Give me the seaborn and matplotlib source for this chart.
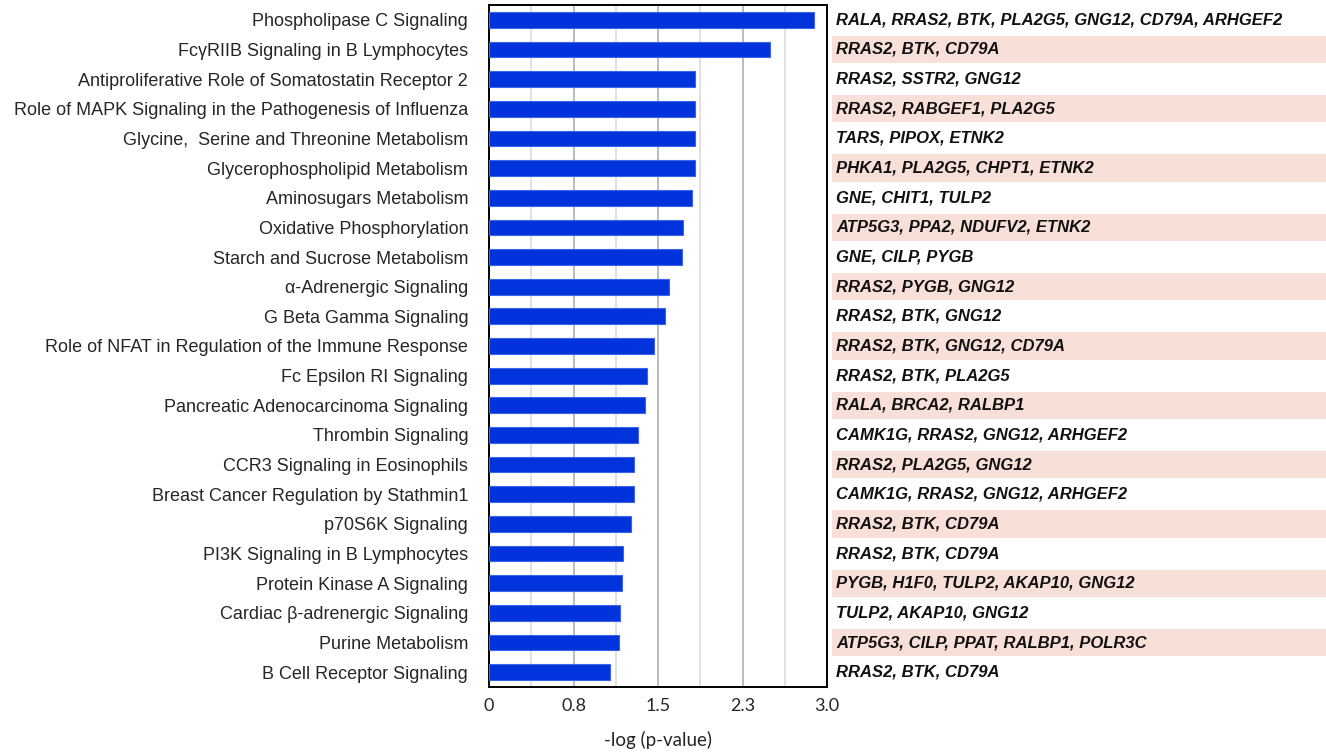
import matplotlib
matplotlib.use("Agg")
import matplotlib.pyplot as plt
import matplotlib.transforms as mtransforms
from matplotlib.patches import Rectangle
from matplotlib.ticker import FixedLocator
import pandas as pd
import seaborn as sns

# %% data
pathways = [
    "Phospholipase C Signaling",
    "FcγRIIB Signaling in B Lymphocytes",
    "Antiproliferative Role of Somatostatin Receptor 2",
    "Role of MAPK Signaling in the Pathogenesis of Influenza",
    "Glycine,  Serine and Threonine Metabolism",
    "Glycerophospholipid Metabolism",
    "Aminosugars Metabolism",
    "Oxidative Phosphorylation",
    "Starch and Sucrose Metabolism",
    "α-Adrenergic Signaling",
    "G Beta Gamma Signaling",
    "Role of NFAT in Regulation of the Immune Response",
    "Fc Epsilon RI Signaling",
    "Pancreatic Adenocarcinoma Signaling",
    "Thrombin Signaling",
    "CCR3 Signaling in Eosinophils",
    "Breast Cancer Regulation by Stathmin1",
    "p70S6K Signaling",
    "PI3K Signaling in B Lymphocytes",
    "Protein Kinase A Signaling",
    "Cardiac β-adrenergic Signaling",
    "Purine Metabolism",
    "B Cell Receptor Signaling",
]
neg_log_p = [
    2.88, 2.49, 1.83, 1.83, 1.83, 1.83, 1.80, 1.72, 1.71, 1.60, 1.56, 1.46,
    1.40, 1.38, 1.32, 1.29, 1.29, 1.26, 1.19, 1.18, 1.16, 1.15, 1.07,
]
genes = [
    "RALA, RRAS2, BTK, PLA2G5, GNG12, CD79A, ARHGEF2",
    "RRAS2, BTK, CD79A",
    "RRAS2, SSTR2, GNG12",
    "RRAS2, RABGEF1, PLA2G5",
    "TARS, PIPOX, ETNK2",
    "PHKA1, PLA2G5, CHPT1, ETNK2",
    "GNE, CHIT1, TULP2",
    "ATP5G3, PPA2, NDUFV2, ETNK2",
    "GNE, CILP, PYGB",
    "RRAS2, PYGB, GNG12",
    "RRAS2, BTK, GNG12",
    "RRAS2, BTK, GNG12, CD79A",
    "RRAS2, BTK, PLA2G5",
    "RALA, BRCA2, RALBP1",
    "CAMK1G, RRAS2, GNG12, ARHGEF2",
    "RRAS2, PLA2G5, GNG12",
    "CAMK1G, RRAS2, GNG12, ARHGEF2",
    "RRAS2, BTK, CD79A",
    "RRAS2, BTK, CD79A",
    "PYGB, H1F0, TULP2, AKAP10, GNG12",
    "TULP2, AKAP10, GNG12",
    "ATP5G3, CILP, PPAT, RALBP1, POLR3C",
    "RRAS2, BTK, CD79A",
]
x_ticks = [0, 0.75, 1.5, 2.25, 3.0]
x_tick_labels = ["0", "0.8", "1.5", "2.3", "3.0"]
minor_grid = [0.375, 1.125, 1.875, 2.625]

df = pd.DataFrame({"pathway": pathways, "score": neg_log_p, "genes": genes})

# %% plot
sns.set_theme(style="white")
plt.rcParams["font.family"] = ["Liberation Sans", "DejaVu Sans"]

fig = plt.figure(figsize=(13.26, 7.52), dpi=100)
ax = fig.add_axes([0.3688, 0.0864, 0.2549, 0.907])

sns.barplot(
    data=df,
    x="score",
    y="pathway",
    orient="h",
    color="#0033DB",
    saturation=1,
    width=0.53,
    edgecolor="#3d63e8",
    linewidth=0.8,
    ax=ax,
    zorder=3,
)

ax.set_xlim(0, 3.0)
ax.xaxis.set_major_locator(FixedLocator(x_ticks))
ax.set_xticklabels(x_tick_labels, fontfamily="Lato", fontsize=13)
for xv in minor_grid:
    ax.axvline(xv, color="#dcdcdc", linewidth=1.2, zorder=1)
for xv in x_ticks[1:-1]:
    ax.axvline(xv, color="#b0b0b0", linewidth=1.2, zorder=1)

ax.tick_params(axis="both", length=0, pad=8)
ax.tick_params(axis="y", labelsize=13, pad=15)
ax.set_ylabel("")
ax.set_xlabel("-log (p-value)", fontfamily="Lato", fontsize=13.5, labelpad=12)

for side in ["left", "right", "top", "bottom"]:
    ax.spines[side].set_visible(True)
    ax.spines[side].set_color("black")
    ax.spines[side].set_linewidth(1.4)

# gene list column with alternating shading
trans = mtransforms.blended_transform_factory(fig.transFigure, ax.transData)
for i, g in enumerate(df["genes"]):
    if i % 2 == 1:
        ax.add_patch(
            Rectangle(
                (0.6275, i - 0.46), 0.3725, 0.92,
                transform=trans, facecolor="#f8e0d9", edgecolor="none",
                clip_on=False, zorder=0,
            )
        )
    ax.text(
        0.6305, i, g, transform=trans, ha="left", va="center",
        fontsize=12, fontweight="bold", fontstyle="italic",
        color="#111111", clip_on=False,
    )

fig.savefig("out.png", dpi=100)
